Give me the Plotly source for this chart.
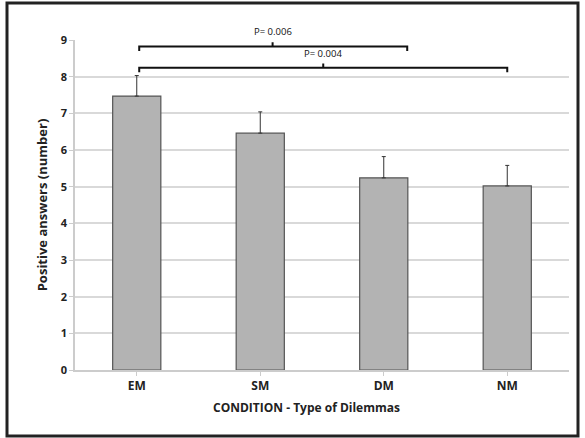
import plotly.graph_objects as go

categories = ["EM", "SM", "DM", "NM"]
values = [7.47, 6.46, 5.24, 5.02]
errors = [0.56, 0.58, 0.58, 0.56]

# significance comparisons: span in category units, bracket height, label
cmp_labels = ["P= 0.006", "P= 0.004"]
cmp_x0 = [0.02, 0.02]
cmp_x1 = [2.19, 3.0]
cmp_mid = [1.1, 1.51]
cmp_y = [8.82, 8.24]

Y_MAX = 9

fig = go.Figure()
fig.add_trace(go.Bar(
    x=list(range(len(categories))), y=values, width=0.39,
    marker=dict(color="#b3b3b3", line=dict(color="#555555", width=1.2)),
    error_y=dict(type="data", array=errors, arrayminus=[0]*len(values),
                 symmetric=False, color="#333333", thickness=1, width=2),
))

hook = 0.12
for lab, x0, x1, xm, yv in zip(cmp_labels, cmp_x0, cmp_x1, cmp_mid, cmp_y):
    path = (f"M {x0},{yv-hook} L {x0},{yv} L {x1},{yv} L {x1},{yv-hook} "
            f"M {xm},{yv} L {xm},{yv+hook}")
    fig.add_shape(type="path", path=path, xref="x", yref="y",
                  line=dict(color="#111111", width=2))
    fig.add_annotation(x=xm, y=(yv + 0.4) / Y_MAX, xref="x", yref="paper",
                       text=lab, showarrow=False, yanchor="middle",
                       font=dict(family="Open Sans", size=9.5, color="#111111"))

# x-axis title (slightly left of plot centre, as in the reference)
fig.add_annotation(x=0.468, y=-37/330, xref="paper", yref="paper",
                   text="<b>CONDITION - Type of Dilemmas</b>", showarrow=False,
                   yanchor="middle",
                   font=dict(family="Open Sans", size=12, color="#222222"))

# outer frame
fig.add_shape(type="rect", xref="paper", yref="paper",
              x0=-68/494, x1=(578-75)/494, y0=-(436-370)/330, y1=(370-3)/330,
              line=dict(color="#222222", width=3))

fig.update_layout(
    width=585, height=438,
    margin=dict(l=75, r=16, t=40, b=68),
    paper_bgcolor="white", plot_bgcolor="white",
    showlegend=False,
    font=dict(family="Open Sans", color="#222222"),
)
fig.update_xaxes(
    tickmode="array", tickvals=list(range(len(categories))), ticktext=categories,
    range=[-0.5, 3.5], showline=True, linecolor="#cccccc", linewidth=1.5,
    ticks="outside", tickson="boundaries", ticklen=4, tickcolor="#cccccc",
    tickfont=dict(size=12, family="Open Sans", color="#222222", weight="bold"),
    showgrid=False, zeroline=False,
)
fig.update_yaxes(
    range=[0, Y_MAX], dtick=1, showline=True, linecolor="#cccccc", linewidth=1.5,
    ticks="outside", ticklen=4, tickcolor="#cccccc",
    showgrid=True, gridcolor="#d9d9d9", gridwidth=1.5, zeroline=False,
    tickfont=dict(size=11, family="Open Sans", color="#222222", weight="bold"),
    title=dict(text="<b>Positive answers (number)</b>",
               font=dict(size=13), standoff=10),
)

fig.write_html("out.html", config={"displayModeBar": False},
               post_script="document.body.style.margin='0';document.body.style.overflow='hidden';")
